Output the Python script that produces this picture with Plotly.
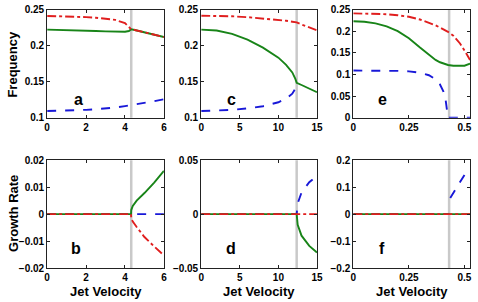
import plotly.graph_objects as go

# ---------------- data ----------------
# panel a (frequency) / b (growth rate), jet velocity 0..6
a_x = [0, 0.5, 1, 1.5, 2, 2.5, 3, 3.5, 4, 4.2, 4.32, 4.5, 5, 5.5, 6]
a_red = [0.2415, 0.2413, 0.241, 0.2405, 0.2398, 0.239, 0.2378, 0.236, 0.2315, 0.2265, 0.223, 0.222, 0.219, 0.2155, 0.2122]
a_green = [0.2225, 0.2223, 0.222, 0.2215, 0.221, 0.2205, 0.22, 0.2196, 0.2195, 0.2205, 0.223, 0.222, 0.219, 0.2155, 0.2122]
a_blue = [0.1093, 0.1095, 0.1098, 0.1103, 0.111, 0.1118, 0.1128, 0.1142, 0.1162, 0.117, 0.1175, 0.1183, 0.1205, 0.123, 0.1257]

b_x = [0, 4.31, 4.32, 4.4, 4.6, 5.0, 5.5, 6]
b_green = [0, 0, 0.0015, 0.003, 0.005, 0.0078, 0.0117, 0.016]
b_red = [0, 0, -0.0015, -0.0028, -0.0048, -0.0085, -0.012, -0.0153]
b_blue = [0, 0, 0, 0, 0, 0, 0, 0]

# panel c / d, jet velocity 0..15
c_x = [0, 2, 4, 6, 8, 10, 11, 11.8, 12.2, 12.37, 13, 14, 15]
c_red = [0.2418, 0.2416, 0.241, 0.2398, 0.2382, 0.2362, 0.2348, 0.2335, 0.2328, 0.2325, 0.2295, 0.2255, 0.2215]
c_green = [0.2225, 0.2212, 0.2165, 0.2085, 0.1975, 0.1835, 0.1735, 0.163, 0.154, 0.1485, 0.1455, 0.1405, 0.1355]
c_blue = [0.1093, 0.1098, 0.111, 0.113, 0.116, 0.1215, 0.1265, 0.1335, 0.1405, 0.1475, None, None, None]

d_x = [0, 12.37, 12.5, 13, 14, 15]
d_blue = [0, 0, 0.01, 0.02, 0.0295, 0.0355]
d_green = [0, 0, -0.01, -0.02, -0.0295, -0.0355]
d_red = [0, 0, 0, 0, 0, 0]

# panel e / f, jet velocity 0..0.525
e_x = [0, 0.05, 0.1, 0.15, 0.2, 0.25, 0.3, 0.34, 0.37, 0.39, 0.405, 0.415, 0.422, 0.426, 0.45, 0.48, 0.5, 0.525]
e_red = [0.2418, 0.2416, 0.241, 0.2398, 0.2375, 0.234, 0.2275, 0.2205, 0.214, 0.209, 0.205, 0.202, 0.2, 0.199, 0.19, 0.172, 0.156, 0.134]
e_green = [0.2235, 0.2222, 0.2185, 0.2115, 0.2005, 0.184, 0.1625, 0.1455, 0.134, 0.1285, 0.1255, 0.1238, 0.1228, 0.1222, 0.1205, 0.1195, 0.1205, 0.1255]
e_blue = [0.1093, 0.1093, 0.1092, 0.109, 0.1085, 0.1075, 0.1045, 0.0985, 0.089, 0.077, 0.061, 0.042, 0.021, 0.0, 0.0, 0.0, 0.0, 0.0]

f_x = [0, 0.431, 0.433, 0.436, 0.475, 0.515]
f_blue = [0, 0, None, 0.06, 0.112, 0.165]
f_zero_x = [0, 0.525]
f_zero = [0, 0]

critical = [4.32, 12.37, 0.431]

x_ranges = [[0, 6], [0, 15], [0, 0.525]]
x_ticks = [[0, 2, 4, 6], [0, 5, 10, 15], [0, 0.25, 0.5]]
x_ticktext = [["0", "2", "4", "6"], ["0", "5", "10", "15"], ["0", "0.25", "0.5"]]
top_ranges = [[0.1, 0.25], [0.1, 0.25], [0, 0.25]]
top_ticks = [[0.1, 0.15, 0.2, 0.25], [0.1, 0.15, 0.2, 0.25], [0, 0.05, 0.1, 0.15, 0.2, 0.25]]
top_ticktext = [["0.1", "0.15", "0.2", "0.25"], ["0.1", "0.15", "0.2", "0.25"],
                ["0", "0.05", "0.1", "0.15", "0.2", "0.25"]]
bot_ranges = [[-0.02, 0.02], [-0.05, 0.05], [-0.2, 0.2]]
bot_ticks = [[-0.02, -0.01, 0, 0.01, 0.02], [-0.05, 0, 0.05], [-0.2, -0.1, 0, 0.1, 0.2]]
bot_ticktext = [["\u22120.02", "\u22120.01", "0", "0.01", "0.02"], ["\u22120.05", "0", "0.05"],
                ["\u22120.2", "\u22120.1", "0", "0.1", "0.2"]]
letters_top = ["a", "c", "e"]
letters_bot = ["b", "d", "f"]

# ---------------- style ----------------
RED = "#e01e1e"
GREEN = "#188418"
BLUE = "#1818d8"
GRAY = "#c9c9c9"
LW = 1.9
FONT = "Liberation Sans, Arial, sans-serif"

W, H = 478, 302
x_px = [(45, 164), (202, 320), (357, 476)]
top_px = (5, 117)
bot_px = (161, 273)

fig = go.Figure()


def add(x, y, color, dash, ax):
    fig.add_trace(go.Scatter(x=x, y=y, mode="lines", line=dict(color=color, width=LW, dash=dash),
                             xaxis="x" + ax, yaxis="y" + ax, showlegend=False, hoverinfo="skip",
                             connectgaps=False))


top_data = [(a_x, a_blue, a_green, a_red), (c_x, c_blue, c_green, c_red), (e_x, e_blue, e_green, e_red)]
for i, (x, bl, gr, rd) in enumerate(top_data):
    ax = str(i + 1)
    add(x, bl, BLUE, "dash", ax)
    add(x, gr, GREEN, "solid", ax)
    add(x, rd, RED, "dashdot", ax)

# bottom panels
add(b_x, b_blue, BLUE, "dash", "4")
add(b_x, b_green, GREEN, "solid", "4")
add(b_x, b_red, RED, "dashdot", "4")
add(d_x, d_blue, BLUE, "dash", "5")
add(d_x, d_green, GREEN, "solid", "5")
add(d_x, d_red, RED, "dashdot", "5")
add(f_x, f_blue, BLUE, "dash", "6")
add(f_zero_x, f_zero, GREEN, "solid", "6")
add(f_zero_x, f_zero, RED, "dashdot", "6")

tickfont = dict(family=FONT, size=10, color="black", weight="bold")
axis_common = dict(showline=True, linecolor="#222222", linewidth=1, mirror="ticks", ticks="inside",
                   ticklen=3, tickcolor="#222222", showgrid=False, zeroline=False, tickfont=tickfont,
                   fixedrange=True, ticklabeloverflow="allow")

layout = dict(width=W, height=H, margin=dict(l=0, r=0, t=0, b=0), paper_bgcolor="white",
              plot_bgcolor="white", showlegend=False)

shapes = []
annotations = []
for row in range(2):
    for col in range(3):
        n = row * 3 + col + 1
        ypx = top_px if row == 0 else bot_px
        xd = [x_px[col][0] / W, x_px[col][1] / W]
        yd = [1 - ypx[1] / H, 1 - ypx[0] / H]
        sfx = "" if n == 1 else str(n)
        layout["xaxis" + sfx] = dict(
            domain=xd, range=x_ranges[col], tickvals=x_ticks[col], ticktext=x_ticktext[col],
            anchor="y" + sfx, **axis_common)
        if row == 0:
            yr, yt, ytt = top_ranges[col], top_ticks[col], top_ticktext[col]
        else:
            yr, yt, ytt = bot_ranges[col], bot_ticks[col], bot_ticktext[col]
        layout["yaxis" + sfx] = dict(
            domain=yd, range=yr, tickvals=yt, ticktext=ytt,
            anchor="x" + sfx, **axis_common)
        xr = "x" + sfx
        yr_ = "y" + sfx
        shapes.append(dict(type="line", xref=xr, yref=yr_ + " domain", x0=critical[col], x1=critical[col],
                           y0=0, y1=1, line=dict(color=GRAY, width=2.5), layer="below"))
        letter = letters_top[col] if row == 0 else letters_bot[col]
        lx = [0.27, 0.26, 0.25][col] if row == 0 else [0.245, 0.26, 0.245][col]
        ly = 0.17 if row == 0 else 0.18
        annotations.append(dict(text=letter, xref=xr + " domain", yref=yr_ + " domain", x=lx, y=ly,
                                showarrow=False, xanchor="center", yanchor="middle",
                                font=dict(family=FONT, size=16, color="black", weight="bold")))

titlefont = dict(family=FONT, size=13, color="black", weight="bold")
annotations.append(dict(text="Frequency", xref="paper", yref="paper", x=10 / W, y=1 - 61 / H,
                        textangle=-90, showarrow=False, xanchor="center", yanchor="middle", font=titlefont))
annotations.append(dict(text="Growth Rate", xref="paper", yref="paper", x=10 / W, y=1 - 216 / H,
                        textangle=-90, showarrow=False, xanchor="center", yanchor="middle", font=titlefont))
for col in range(3):
    cx = (x_px[col][0] + x_px[col][1]) / 2 / W
    annotations.append(dict(text="Jet Velocity", xref="paper", yref="paper", x=cx, y=-4 / H,
                            showarrow=False, xanchor="center", yanchor="bottom", borderpad=0,
                            font=titlefont))

layout["shapes"] = shapes
layout["annotations"] = annotations
fig.update_layout(**layout)
fig.write_html("out.html", config={"displayModeBar": False},
               post_script="document.body.style.margin='0';document.body.style.overflow='hidden';")
